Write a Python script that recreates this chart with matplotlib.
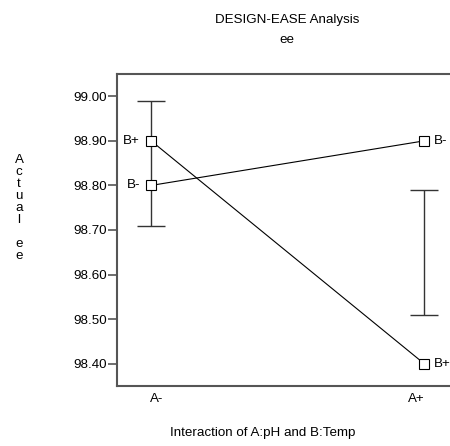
import matplotlib
matplotlib.use("Agg")
import matplotlib.pyplot as plt

plt.rcParams['font.family'] = ['Liberation Sans', 'DejaVu Sans']

x_labels = ["A-", "A+"]
x_pos = [0, 1]
b_minus = [98.80, 98.90]
b_plus = [98.90, 98.40]
err_center = [98.85, 98.65]
err_half = [0.14, 0.14]
y_ticks = [98.40, 98.50, 98.60, 98.70, 98.80, 98.90, 99.00]

FS = 9.6
W, H = 450, 446
fig = plt.figure(figsize=(W/100, H/100), dpi=100)
ax = fig.add_axes([117/W, (H-386)/H, 340/W, (386-74)/H])

ax.errorbar(x_pos, err_center, yerr=err_half, fmt='none', ecolor='#333333',
            elinewidth=1, capsize=10, capthick=1, zorder=1)
ax.plot(x_pos, b_minus, color='black', lw=0.8, marker='s', ms=7,
        mfc='white', mec='black', mew=0.8, zorder=3)
ax.plot(x_pos, b_plus, color='black', lw=0.8, marker='s', ms=7,
        mfc='white', mec='black', mew=0.8, zorder=3)

ax.annotate("B-", (x_pos[0], b_minus[0]), xytext=(-8, 0), textcoords='offset points',
            ha='right', va='center', fontsize=FS)
ax.annotate("B+", (x_pos[0], b_plus[0]), xytext=(-8, 0), textcoords='offset points',
            ha='right', va='center', fontsize=FS)
ax.annotate("B-", (x_pos[1], b_minus[1]), xytext=(7, 0), textcoords='offset points',
            ha='left', va='center', fontsize=FS)
ax.annotate("B+", (x_pos[1], b_plus[1]), xytext=(7, 0), textcoords='offset points',
            ha='left', va='center', fontsize=FS)

ax.set_xlim(-0.125, 1.12)
ax.set_ylim(98.35, 99.05)
ax.set_yticks(y_ticks)
ax.set_yticklabels([f"{v:.2f}" for v in y_ticks], fontsize=FS)
ax.set_xticks([0.02, 0.97])
ax.set_xticklabels(x_labels, fontsize=FS)
ax.tick_params(axis='x', length=0, pad=5)
ax.tick_params(axis='y', length=6.5, width=1.2, color='#555555', pad=1)

for s in ['left', 'bottom', 'top', 'right']:
    ax.spines[s].set_color('#555555')
    ax.spines[s].set_linewidth(1.5)

fig.text(287/W, 1 - 20/H, "DESIGN-EASE Analysis", ha='center', va='center', fontsize=FS)
fig.text(287/W, 1 - 40/H, "ee", ha='center', va='center', fontsize=FS)
fig.text(263/W, 1 - 433/H, "Interaction of A:pH and B:Temp", ha='center', va='center', fontsize=FS)
fig.text(19/W, 1 - 208/H, "A\nc\nt\nu\na\nl\n\ne\ne", ha='center', va='center',
         fontsize=FS, linespacing=0.99)

fig.savefig("out.png", dpi=100)
